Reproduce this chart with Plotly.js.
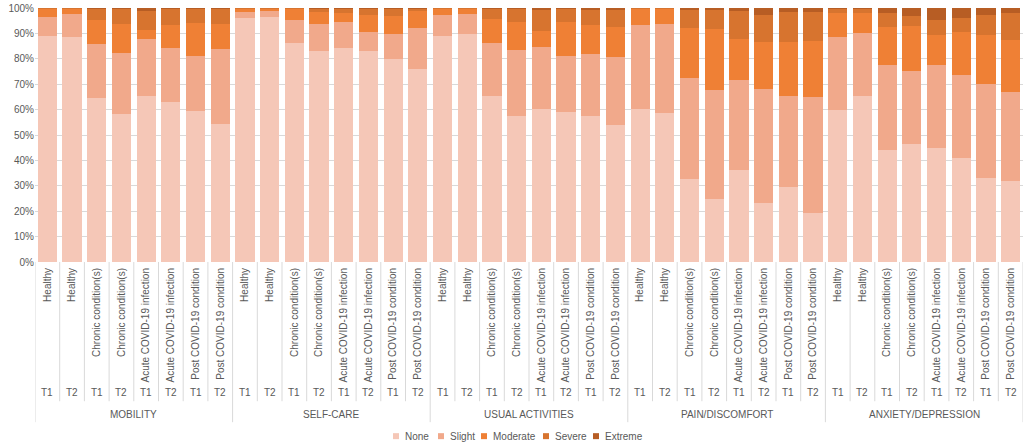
<!DOCTYPE html>
<html>
<head>
<meta charset="utf-8">
<script src="https://cdn.plot.ly/plotly-3.0.1.min.js"></script>
<style>html,body{margin:0;padding:0;background:#fff;}#chart{width:1026px;height:446px;}</style>
</head>
<body>
<div id="chart"></div>
<script>
var dimensions = ['MOBILITY', 'SELF-CARE', 'USUAL ACTIVITIES', 'PAIN/DISCOMFORT', 'ANXIETY/DEPRESSION'];
var groups = ['Healthy', 'Chronic condition(s)', 'Acute COVID-19 infection', 'Post COVID-19 condition'];
var times = ['T1', 'T2'];
var levels = ['None', 'Slight', 'Moderate', 'Severe', 'Extreme'];

var none = [
  89.1, 88.4, 64.5, 58.2, 65.4, 62.8, 59.3, 54.2,
  96.2, 96.6, 86.4, 83.2, 84.2, 83.2, 79.8, 75.8,
  89.1, 89.8, 65.2, 57.6, 60.3, 58.9, 57.6, 53.8,
  60.3, 58.5, 32.7, 25.0, 36.1, 23.3, 29.6, 19.4,
  59.7, 65.4, 44.0, 46.6, 45.0, 41.1, 33.1, 31.7];
var slight = [
  7.5, 9.2, 21.2, 24.1, 22.4, 21.5, 21.9, 29.7,
  2.2, 2.2, 8.8, 10.5, 10.4, 7.5, 10.1, 16.5,
  8.2, 7.8, 21.2, 25.9, 24.4, 22.3, 24.3, 27.1,
  33.2, 35.3, 39.8, 42.9, 35.6, 45.0, 35.8, 45.5,
  28.9, 24.9, 33.4, 28.7, 32.4, 32.7, 37.1, 35.4];
var moderate = [
  3.0, 2.0, 9.5, 11.4, 3.6, 9.2, 12.9, 9.8,
  1.2, 0.8, 4.4, 4.9, 3.3, 6.6, 7.1, 6.4,
  2.3, 2.0, 9.3, 11.0, 6.4, 13.3, 11.4, 11.6,
  6.0, 5.7, 19.5, 23.7, 16.1, 18.5, 21.4, 22.0,
  9.3, 7.6, 15.3, 17.6, 12.1, 16.9, 19.3, 20.5];
var severe = [
  0.3, 0.3, 4.5, 5.8, 7.5, 6.0, 5.4, 5.8,
  0.3, 0.3, 0.3, 1.1, 1.8, 2.4, 2.7, 1.0,
  0.3, 0.3, 3.9, 5.0, 8.0, 5.0, 6.1, 6.8,
  0.4, 0.4, 7.4, 7.8, 11.2, 10.3, 11.5, 11.6,
  1.8, 1.8, 5.5, 4.0, 5.8, 5.5, 7.9, 10.5];
var extreme = [
  0.1, 0.1, 0.3, 0.5, 1.1, 0.5, 0.5, 0.5,
  0.1, 0.1, 0.1, 0.3, 0.3, 0.3, 0.3, 0.3,
  0.1, 0.1, 0.4, 0.5, 0.9, 0.5, 0.6, 0.7,
  0.1, 0.1, 0.6, 0.6, 1.0, 2.9, 1.7, 1.5,
  0.3, 0.3, 1.8, 3.1, 4.7, 3.8, 2.6, 1.9];

var colors = ['#f5c7b7', '#f1a98b', '#ef8035', '#d7742f', '#b75d24'];
var series = [none, slight, moderate, severe, extreme];

// Build category positions
var xIdx = [], groupLabels = [], timeLabels = [];
dimensions.forEach(function (d) {
  groups.forEach(function (g) {
    times.forEach(function (t) {
      xIdx.push(xIdx.length);
      groupLabels.push(g);
      timeLabels.push(t);
    });
  });
});

var traces = series.map(function (vals, i) {
  return {
    type: 'bar',
    name: levels[i],
    x: xIdx,
    y: vals,
    marker: {color: colors[i], line: {width: 0}},
    hoverinfo: 'skip',
    showlegend: false
  };
});

var W = 1026, H = 446;
var mL = 35, mR = 3, mT = 8, mB = 183.5;
var pw = W - mL - mR, ph = H - mT - mB;
function px2paperX(px) { return (px - mL) / pw; }
function px2paperY(py) { return (H - mB - py) / ph; }

var grey = '#595959';
var lineCol = '#d9d9d9';
var fontFam = 'Liberation Sans, Arial, sans-serif';
var shapes = [], annotations = [];
var N = xIdx.length;
var perDim = groups.length * times.length;
for (var k = 0; k <= N; k++) {
  var isDim = (k % perDim === 0);
  shapes.push({
    type: 'line', xref: 'x', yref: 'paper',
    x0: k - 0.5, x1: k - 0.5, y0: 0, y1: px2paperY(isDim ? 423 : 402),
    line: {color: lineCol, width: 1}
  });
}
for (var i = 0; i < N; i++) {
  annotations.push({
    xref: 'x', yref: 'paper', x: i, y: px2paperY(393), text: timeLabels[i],
    showarrow: false, font: {family: fontFam, size: 10, color: grey},
    xanchor: 'center', yanchor: 'middle'
  });
}
dimensions.forEach(function (d, di) {
  annotations.push({
    xref: 'x', yref: 'paper', x: di * perDim + (perDim - 1) / 2, y: px2paperY(415), text: d,
    showarrow: false, font: {family: fontFam, size: 10, color: grey},
    xanchor: 'center', yanchor: 'middle'
  });
});

// Legend (bottom, centred)
var legSquareX = [393, 438, 481, 543, 593];
var legY = 437;
levels.forEach(function (lv, li) {
  var x0 = legSquareX[li];
  shapes.push({
    type: 'rect', xref: 'paper', yref: 'paper',
    x0: px2paperX(x0), x1: px2paperX(x0 + 6),
    y0: px2paperY(legY + 3), y1: px2paperY(legY - 3),
    fillcolor: colors[li], line: {width: 0}
  });
  annotations.push({
    xref: 'paper', yref: 'paper', x: px2paperX(x0 + 10), y: px2paperY(legY),
    text: lv, showarrow: false, xanchor: 'left', yanchor: 'middle',
    font: {family: fontFam, size: 10, color: grey}
  });
});

var layout = {
  width: W, height: H,
  margin: {l: mL, r: mR, t: mT, b: mB, pad: 0},
  barmode: 'stack',
  bargap: 0.22,
  paper_bgcolor: '#ffffff',
  plot_bgcolor: '#ffffff',
  font: {family: fontFam, size: 10, color: grey},
  showlegend: false,
  xaxis: {
    type: 'linear',
    range: [-0.5, N - 0.5],
    tickmode: 'array',
    tickvals: xIdx,
    ticktext: groupLabels,
    tickangle: -90,
    ticks: '',
    ticklabelstandoff: 3,
    showgrid: false,
    zeroline: false,
    showline: false,
    automargin: false,
    tickfont: {family: fontFam, size: 10, color: grey},
    fixedrange: true
  },
  yaxis: {
    range: [0, 100],
    dtick: 10,
    ticksuffix: '%',
    showgrid: true,
    gridcolor: lineCol,
    gridwidth: 1,
    zeroline: false,
    showline: false,
    automargin: false,
    ticks: '',
    tickfont: {family: fontFam, size: 10, color: grey},
    fixedrange: true
  },
  shapes: shapes,
  annotations: annotations
};

Plotly.newPlot('chart', traces, layout, {displayModeBar: false, staticPlot: true});
</script>
</body>
</html>
